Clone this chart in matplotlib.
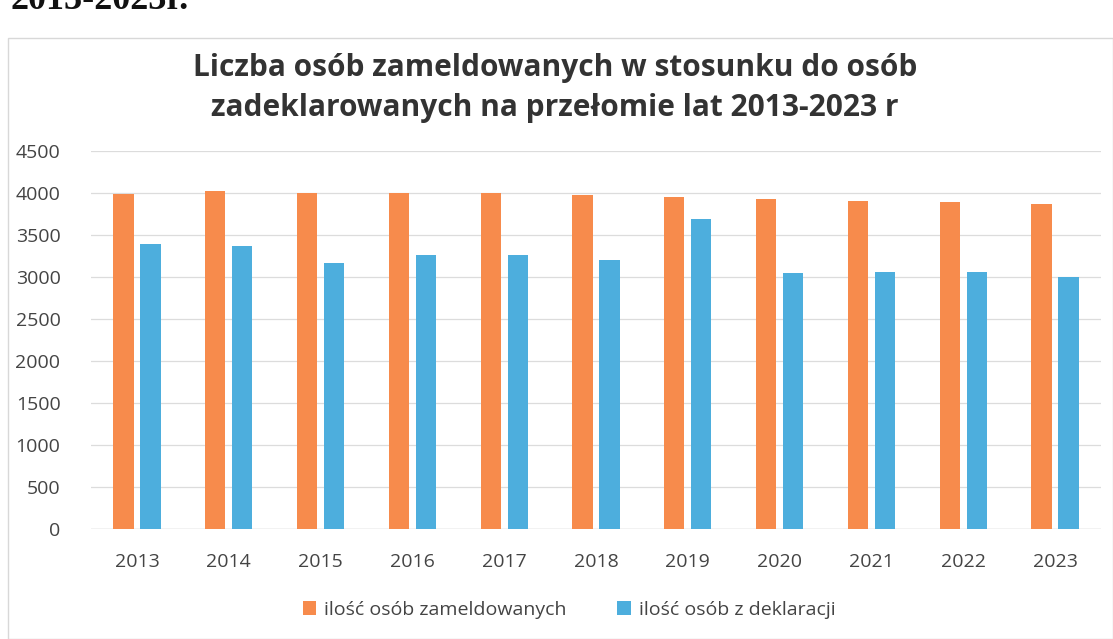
import matplotlib
matplotlib.use("Agg")
import matplotlib.pyplot as plt
import numpy as np
from matplotlib.patches import Rectangle

years = ["2013", "2014", "2015", "2016", "2017", "2018", "2019", "2020", "2021", "2022", "2023"]
zameldowani = [3985, 4025, 4000, 4000, 4005, 3980, 3950, 3925, 3905, 3895, 3865]
deklaracje = [3390, 3365, 3170, 3262, 3266, 3202, 3686, 3051, 3063, 3063, 3000]
series_labels = ["ilość osób zameldowanych", "ilość osób z deklaracji"]
title = "Liczba osób zameldowanych w stosunku do osób\nzadeklarowanych na przełomie lat 2013-2023 r"
yticks = [0, 500, 1000, 1500, 2000, 2500, 3000, 3500, 4000, 4500]

ORANGE = "#F78B4C"
BLUE = "#4DAEDD"
TICK = "#444444"
TITLE = "#333333"

plt.rcParams['font.family'] = ['Open Sans', 'DejaVu Sans']

W, H = 1113, 639
fig = plt.figure(figsize=(W / 100, H / 100), dpi=100)
fig.patch.set_facecolor("white")

# chart frame (scanned page look)
fig.patches.append(Rectangle((8 / W, 0.0), (W - 8) / W, (H - 38) / H, transform=fig.transFigure,
                             fill=False, edgecolor="#D8D8D8", lw=1.0))
# cut-off heading from the page above
fig.text(10 / W, 1 + 16 / H, "2013-2023r.", family="Liberation Serif", weight="bold",
         fontsize=26, color="#111111", ha="left", va="top")

left, right = 91 / W, 1101 / W
bottom, top = 1 - 529 / H, 1 - 151 / H
ax = fig.add_axes([left, bottom, right - left, top - bottom])

x = np.arange(len(years))
bw = 0.22
off = 0.147
ax.bar(x - off, zameldowani, width=bw, color=ORANGE, label=series_labels[0], zorder=3)
ax.bar(x + off, deklaracje, width=bw, color=BLUE, label=series_labels[1], zorder=3)

ax.set_xlim(-0.5, len(years) - 0.5)
ax.set_ylim(0, 4500)
ax.set_yticks(yticks)
ax.set_yticklabels([str(v) for v in yticks])
ax.set_xticks(x)
ax.set_xticklabels(years)
ax.tick_params(axis="both", length=0, labelsize=14, colors=TICK)
ax.tick_params(axis="y", pad=22)
ax.tick_params(axis="x", pad=17)
ax.grid(axis="y", color="#DCDCDC", lw=0.9, zorder=0)
for s in ax.spines.values():
    s.set_visible(False)
ax.axhline(0, color="#D6D6D6", lw=1.0, zorder=2)

fig.text(555 / W, 1 - 88 / H, title, ha="center", va="center", fontsize=21.5, weight="bold",
         color=TITLE, linespacing=1.4)

leg = fig.legend(loc="center", bbox_to_anchor=(569 / W, 1 - 610 / H), ncol=2, frameon=False,
                 fontsize=14, handlelength=0.7, handleheight=0.7, handletextpad=0.4,
                 columnspacing=2.6, labelcolor=TICK)

fig.savefig("out.png", dpi=100, facecolor="white")
